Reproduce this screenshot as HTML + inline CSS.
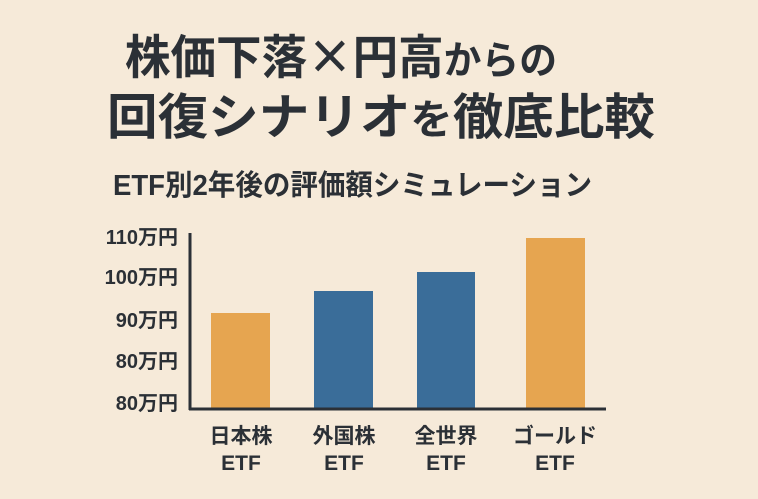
<!DOCTYPE html>
<html><head><meta charset="utf-8"><style>
html,body{margin:0;padding:0;background:#F6EAD9;}
svg{display:block}
text{font-family:"Liberation Sans","Noto Sans CJK JP",sans-serif;font-weight:bold;fill:#2B3036}
</style></head><body>
<svg width="758" height="499" viewBox="0 0 758 499" xmlns="http://www.w3.org/2000/svg">
<rect width="758" height="499" fill="#F6EAD9"/>
<text x="125" y="74" font-size="47" textLength="432" lengthAdjust="spacingAndGlyphs">株価下落<tspan style="font-family:'Noto Sans CJK JP',sans-serif">×</tspan>円高<tspan font-size="39">からの</tspan></text>
<text x="107" y="134" font-size="49" textLength="548" lengthAdjust="spacingAndGlyphs">回復シナリオ<tspan font-size="41">を</tspan>徹底比較</text>
<text x="113" y="195" font-size="29" textLength="479" lengthAdjust="spacingAndGlyphs">ETF別2年後の評価額シミュレーション</text>
<g font-size="20" text-anchor="end">
<text x="178" y="244">110万円</text>
<text x="178" y="284">100万円</text>
<text x="178" y="327">90万円</text>
<text x="178" y="368">80万円</text>
<text x="178" y="410">80万円</text>
</g>
<rect x="211" y="313" width="59" height="96" fill="#E6A550"/>
<rect x="314" y="291" width="59" height="118" fill="#3A6D99"/>
<rect x="417" y="272" width="58" height="137" fill="#3A6D99"/>
<rect x="526" y="238" width="59" height="171" fill="#E6A550"/>
<line x1="190" y1="233" x2="190" y2="410" stroke="#2B3036" stroke-width="3"/>
<line x1="189" y1="409" x2="606" y2="409" stroke="#2B3036" stroke-width="3"/>
<g font-size="21" text-anchor="middle">
<text x="241" y="443">日本株</text><text x="241" y="470">ETF</text>
<text x="344" y="443">外国株</text><text x="344" y="470">ETF</text>
<text x="446" y="443">全世界</text><text x="446" y="470">ETF</text>
<text x="555" y="443">ゴールド</text><text x="555" y="470">ETF</text>
</g>
</svg>
</body></html>
